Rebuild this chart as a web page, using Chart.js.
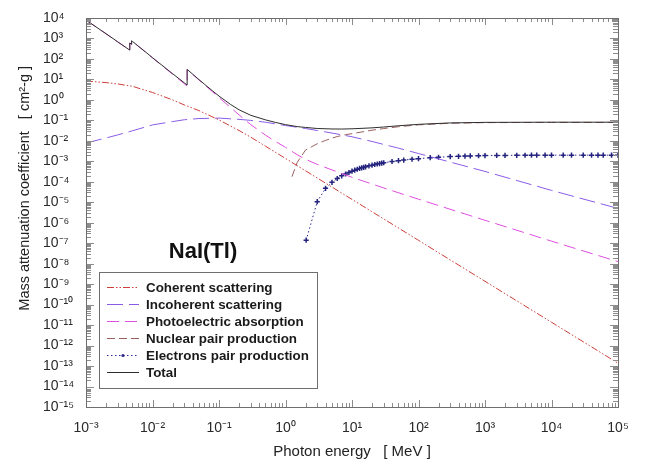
<!DOCTYPE html>
<html><head><meta charset="utf-8">
<script src="https://cdn.jsdelivr.net/npm/chart.js@4.4.1/dist/chart.umd.min.js"></script>
<style>html,body{margin:0;padding:0;background:#fff;}#wrap{width:650px;height:467px;}</style>
</head><body><div id="wrap"><canvas id="c" width="650" height="467"></canvas></div>
<script>
// ---------- texts ----------
const chartLabel = 'NaI(Tl)';
const xTitle = 'Photon energy   [ MeV ]';
const yTitle = 'Mass attenuation coefficient   [ cm\u00B2-g ]';
const seriesNames = ['Coherent scattering','Incoherent scattering','Photoelectric absorption','Nuclear pair production','Electrons pair production','Total'];
// tick label exponents (labels are 10^n)
const xTickExponents = [-3,-2,-1,0,1,2,3,4,5];
const yTickExponents = [-15,-14,-13,-12,-11,-10,-9,-8,-7,-6,-5,-4,-3,-2,-1,0,1,2,3,4];

// ---------- data (energy in MeV, coefficient in cm2/g) ----------
const coherentE = [0.001,0.002,0.003,0.005,0.01,0.02,0.03,0.05,0.1,0.2,0.3,0.5,1,10,100,1000,10000,100000];
const coherentV = [8.3,7.0,6.0,4.6,2.3,1.0,0.57,0.30,0.105,0.032,0.0151,0.0055,0.00138,1.38e-5,1.38e-7,1.38e-9,1.38e-11,1.38e-13];

const incoherentE = [0.001,0.002,0.003,0.005,0.01,0.02,0.03,0.05,0.1,0.2,0.3,0.5,1,2,3,5,10,20,50,100,1000,10000,100000];
const incoherentV = [0.0078,0.0138,0.0195,0.031,0.060,0.087,0.107,0.123,0.129,0.112,0.100,0.081,0.056,0.040,0.032,0.024,0.0158,0.0093,0.0044,0.0024,3.2e-4,3.8e-5,5.0e-6];

const photoE = [0.001,0.002,0.003,0.004,0.004557,0.004557,0.004852,0.004852,0.005,0.006,0.008,0.01,0.015,0.02,0.03,0.03317,0.03317,0.04,0.05,0.06,0.08,0.1,0.15,0.2,0.3,0.5,0.7,1,1.5,2,3,5,10,30,100,1000,10000,100000];
const photoV = [7900,1700,680,355,263,600,513,770,711,439,205,113,38.7,18.1,6.2,4.72,30.3,17.8,9.4,5.6,2.47,1.31,0.42,0.186,0.062,0.019,0.0095,0.0048,0.0021,0.00126,7.1e-4,3.8e-4,1.66e-4,5.0e-5,1.41e-5,1.32e-6,1.26e-7,1.26e-8];

const nuclearE = [1.25,1.5,2,3,4,5,6,8,10,20,30,50,100,300,1000,10000,100000];
const nuclearV = [1.78e-4,8.9e-4,3.55e-3,7.2e-3,0.0105,0.0135,0.0162,0.020,0.0224,0.0331,0.0398,0.049,0.0603,0.0724,0.0776,0.0794,0.0794];

const electronE = [2.044,3,4,5,6,7,8,9,10,11,12,13,14,15,16,18,20,22,24,26,28,30,40,50,60,80,100,150,200,300,400,500,600,800,1000,1500,2000,3000,4000,5000,6000,8000,10000,15000,20000,30000,40000,50000,60000,80000,100000];
const electronV = [1.4e-7,1.07e-5,4.8e-5,9.4e-5,1.45e-4,1.95e-4,2.4e-4,2.85e-4,3.3e-4,3.7e-4,4.1e-4,4.5e-4,4.8e-4,5.1e-4,5.4e-4,6.0e-4,6.5e-4,7.0e-4,7.4e-4,7.8e-4,8.1e-4,8.5e-4,9.8e-4,1.08e-3,1.15e-3,1.26e-3,1.35e-3,1.5e-3,1.58e-3,1.7e-3,1.76e-3,1.8e-3,1.83e-3,1.87e-3,1.9e-3,1.93e-3,1.95e-3,1.97e-3,1.98e-3,1.99e-3,1.99e-3,2.0e-3,2.0e-3,2.0e-3,2.0e-3,2.0e-3,2.0e-3,2.0e-3,2.0e-3,2.0e-3,2.0e-3];

const totalE = [0.001,0.002,0.003,0.004,0.004557,0.004557,0.004852,0.004852,0.005,0.006,0.008,0.01,0.015,0.02,0.03,0.03317,0.03317,0.04,0.05,0.06,0.08,0.1,0.15,0.2,0.3,0.5,0.7,1,1.5,2,3,5,7,10,20,30,50,100,300,1000,10000,100000];
const totalV = [7910,1710,686,360,268,605,518,776,716,444,209,115,40.2,19.2,6.88,5.33,30.9,18.3,9.8,5.95,2.75,1.54,0.59,0.33,0.177,0.106,0.080,0.062,0.0495,0.0452,0.0401,0.0380,0.0377,0.0387,0.0431,0.0473,0.0545,0.064,0.075,0.0798,0.0814,0.0814];

// ---------- helpers ----------
const FONT = '"Liberation Sans", Arial, Helvetica, sans-serif';
const SUP = {'-':'\u207B','0':'\u2070','1':'\u00B9','2':'\u00B2','3':'\u00B3','4':'\u2074','5':'\u2075','6':'\u2076','7':'\u2077','8':'\u2078','9':'\u2079'};
const pow10Label = (n) => '10' + String(n).split('').map(c => SUP[c]).join('');
const pts = (E, V) => E.map((e, i) => ({x: e, y: V[i]}));

const frameAndLegend = {
  id: 'frameAndLegend',
  afterDatasetsDraw(chart) {
    const {ctx, chartArea: a, scales: {x, y}} = chart;
    ctx.save();
    ctx.setLineDash([]);
    ctx.lineWidth = 1;
    ctx.strokeStyle = '#8c8c8c';
    ctx.beginPath();
    const xMaxE = xTickExponents[xTickExponents.length - 1];
    for (let e = xTickExponents[0]; e <= xMaxE; e++) {
      for (let k = 1; k <= 9; k++) {
        if (e === xMaxE && k > 1) break;
        const px = Math.round(x.getPixelForValue(k * Math.pow(10, e))) + 0.5;
        const len = k === 1 ? 7 : 4;
        ctx.moveTo(px, a.bottom); ctx.lineTo(px, a.bottom - len);
        ctx.moveTo(px, a.top); ctx.lineTo(px, a.top + len);
      }
    }
    const yMaxE = yTickExponents[yTickExponents.length - 1];
    for (let e = yTickExponents[0]; e <= yMaxE; e++) {
      for (let k = 1; k <= 9; k++) {
        if (e === yMaxE && k > 1) break;
        const py = Math.round(y.getPixelForValue(k * Math.pow(10, e))) + 0.5;
        const len = k === 1 ? 8 : 5;
        ctx.moveTo(a.left, py); ctx.lineTo(a.left + len, py);
        ctx.moveTo(a.right, py); ctx.lineTo(a.right - len, py);
      }
    }
    ctx.stroke();
    ctx.strokeStyle = '#6e6e6e';
    ctx.strokeRect(Math.round(a.left) + 0.5, Math.round(a.top) + 0.5, Math.round(a.right - a.left), Math.round(a.bottom - a.top));

    // chart label
    ctx.fillStyle = '#111';
    ctx.font = 'bold 22px ' + FONT;
    ctx.textAlign = 'center';
    ctx.textBaseline = 'middle';
    ctx.fillText(chartLabel, 203, 252);

    // legend box
    const lx = 99, ly = 272, lw = 218, lh = 116;
    ctx.fillStyle = '#fff';
    ctx.fillRect(lx, ly, lw, lh);
    ctx.strokeStyle = '#6e6e6e';
    ctx.strokeRect(lx + 0.5, ly + 0.5, lw, lh);
    ctx.font = 'bold 13.4px ' + FONT;
    ctx.textAlign = 'left';
    chart.data.datasets.forEach((ds, i) => {
      const yy = 287 + i * 17;
      ctx.save();
      ctx.strokeStyle = ds.borderColor;
      ctx.lineWidth = 1;
      ctx.setLineDash(ds.borderDash || []);
      ctx.beginPath();
      ctx.moveTo(107, yy + 0.5); ctx.lineTo(139, yy + 0.5);
      ctx.stroke();
      ctx.restore();
      if (ds.pointRadius > 0) {
        ctx.fillStyle = ds.borderColor;
        ctx.beginPath(); ctx.arc(123, yy + 0.5, 1.6, 0, Math.PI * 2); ctx.fill();
      }
      ctx.fillStyle = '#1a1a1a';
      ctx.fillText(ds.label, 146, yy + 1);
    });
    ctx.restore();
  }
};

const base = {fill: false, borderWidth: 1, pointRadius: 0, tension: 0, order: 1};
const datasets = [
  Object.assign({}, base, {label: seriesNames[0], data: pts(coherentE, coherentV), borderColor: '#cc3f3a', borderDash: [7,2,1.5,2,1.5,2]}),
  Object.assign({}, base, {label: seriesNames[1], data: pts(incoherentE, incoherentV), borderColor: '#8a5ce6', borderDash: [16,6]}),
  Object.assign({}, base, {label: seriesNames[2], data: pts(photoE, photoV), borderColor: '#e04ee0', borderDash: [12,6]}),
  Object.assign({}, base, {label: seriesNames[3], data: pts(nuclearE, nuclearV), borderColor: '#9a6060', borderDash: [8,4]}),
  Object.assign({}, base, {label: seriesNames[4], data: pts(electronE, electronV), borderColor: '#2a2a8c', borderDash: [1.5,2.5],
    pointRadius: 2.6, pointStyle: 'cross', pointBorderWidth: 1.5, pointBorderColor: '#24247e'}),
  Object.assign({}, base, {label: seriesNames[5], data: pts(totalE, totalV), borderColor: '#2e2e2e', borderDash: [], order: 0})
];

Chart.defaults.font.family = FONT;
new Chart(document.getElementById('c'), {
  type: 'line',
  data: {datasets},
  options: {
    responsive: false, animation: false, devicePixelRatio: 1,
    layout: {padding: {left: 43, right: 32, top: 18, bottom: 0}},
    plugins: {legend: {display: false}, title: {display: false}, tooltip: {enabled: false}},
    scales: {
      x: {
        type: 'logarithmic', position: 'bottom',
        min: Math.pow(10, xTickExponents[0]), max: Math.pow(10, xTickExponents[xTickExponents.length - 1]),
        afterBuildTicks: (s) => { s.ticks = xTickExponents.map(n => ({value: Number('1e' + n)})); },
        afterFit: (s) => { s.height = 60; },
        grid: {display: false, drawTicks: false}, border: {display: false},
        ticks: {autoSkip: false, maxRotation: 0, padding: 13, color: '#2a2a2a', font: {size: 14},
          callback: (v) => pow10Label(Math.round(Math.log10(v)))},
        title: {display: true, text: xTitle, color: '#222', font: {size: 15}, padding: {top: 0, bottom: 6}}
      },
      y: {
        type: 'logarithmic', position: 'left',
        min: Math.pow(10, yTickExponents[0]), max: Math.pow(10, yTickExponents[yTickExponents.length - 1]),
        afterBuildTicks: (s) => { s.ticks = yTickExponents.map(n => ({value: Number('1e' + n)})); },
        afterFit: (s) => { s.width = 43; },
        grid: {display: false, drawTicks: false}, border: {display: false},
        ticks: {autoSkip: false, crossAlign: 'far', padding: 0, color: '#2a2a2a', font: {size: 14},
          callback: (v) => pow10Label(Math.round(Math.log10(v)))},
        title: {display: true, text: '            ' + yTitle, color: '#222', font: {size: 14.5}, padding: {top: -27, bottom: 0}}
      }
    }
  },
  plugins: [frameAndLegend]
});
</script></body></html>
